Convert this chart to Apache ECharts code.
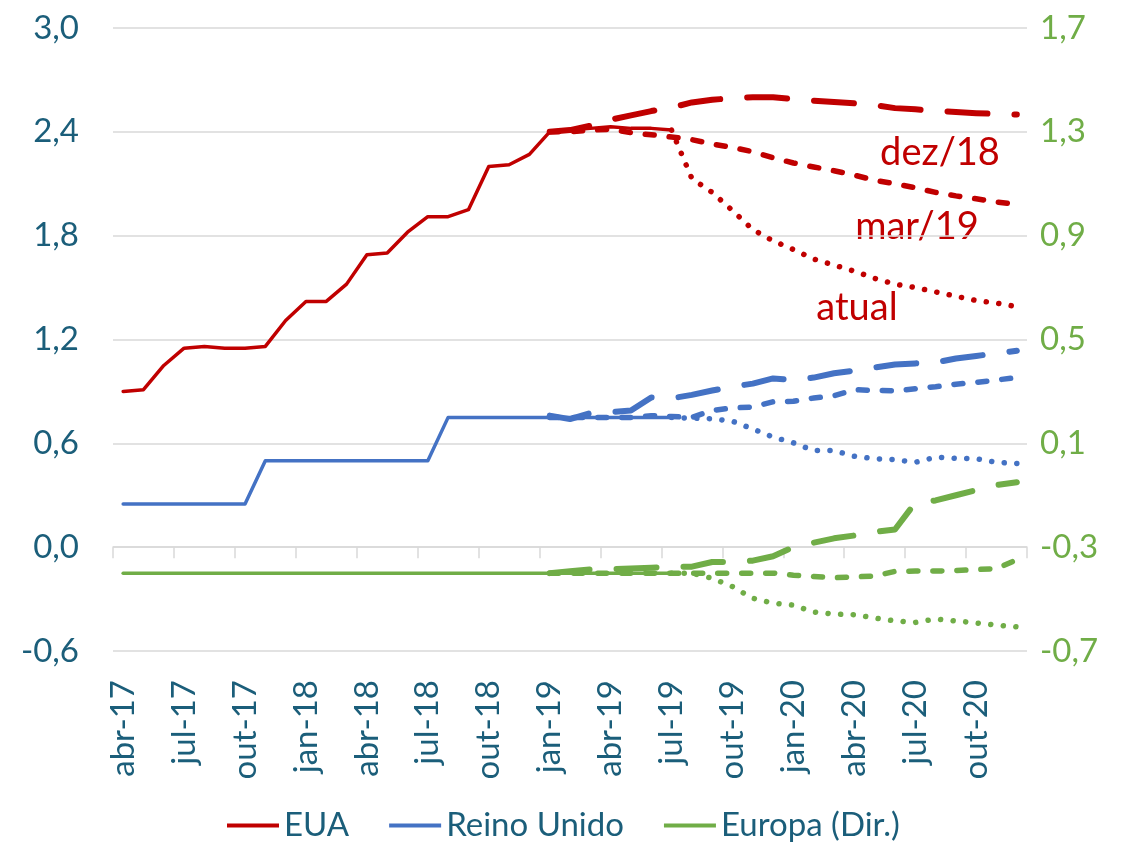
<!DOCTYPE html>
<html>
<head>
<meta charset="utf-8">
<script src="https://cdn.jsdelivr.net/npm/echarts@6/dist/echarts.min.js"></script>
<style>
  html, body { margin: 0; padding: 0; background: #fff; }
  #chart { width: 1127px; height: 843px; }
</style>
</head>
<body>
<div id="chart"></div>
<script>
// meses (eixo x)
var months = ['abr-17','mai-17','jun-17','jul-17','ago-17','set-17','out-17','nov-17','dez-17',
  'jan-18','fev-18','mar-18','abr-18','mai-18','jun-18','jul-18','ago-18','set-18','out-18','nov-18','dez-18',
  'jan-19','fev-19','mar-19','abr-19','mai-19','jun-19','jul-19','ago-19','set-19','out-19','nov-19','dez-19',
  'jan-20','fev-20','mar-20','abr-20','mai-20','jun-20','jul-20','ago-20','set-20','out-20','nov-20','dez-20'];

// historico: abr-17 .. jul-19
var eua = [0.90,0.91,1.05,1.15,1.16,1.15,1.15,1.16,1.31,1.42,1.42,1.52,1.69,1.70,1.82,1.91,1.91,1.95,2.20,2.21,2.27,2.40,2.41,2.42,2.43,2.42,2.42,2.41];
var reinoUnido = [0.25,0.25,0.25,0.25,0.25,0.25,0.25,0.50,0.50,0.50,0.50,0.50,0.50,0.50,0.50,0.50,0.75,0.75,0.75,0.75,0.75,0.75,0.75,0.75,0.75,0.75,0.75,0.75];
var europa = [-0.40,-0.40,-0.40,-0.40,-0.40,-0.40,-0.40,-0.40,-0.40,-0.40,-0.40,-0.40,-0.40,-0.40,-0.40,-0.40,-0.40,-0.40,-0.40,-0.40,-0.40,-0.40,-0.40,-0.40,-0.40,-0.40,-0.40,-0.40];

// curvas futuras dez/18 e mar/19: jan-19 .. dez-20
var euaDez18 = [2.40,2.41,2.435,2.47,2.495,2.52,2.54,2.57,2.585,2.595,2.60,2.60,2.59,2.58,2.572,2.565,2.555,2.537,2.53,2.522,2.515,2.508,2.503,2.50];
var euaMar19 = [2.40,2.40,2.41,2.415,2.395,2.383,2.37,2.355,2.33,2.31,2.285,2.25,2.22,2.197,2.175,2.15,2.12,2.10,2.077,2.05,2.03,2.013,1.995,1.98];
var ukDez18 = [0.76,0.74,0.775,0.78,0.79,0.865,0.86,0.88,0.905,0.928,0.945,0.975,0.965,0.98,1.005,1.02,1.038,1.056,1.062,1.067,1.09,1.105,1.12,1.135];
var ukMar19 = [0.75,0.75,0.75,0.75,0.75,0.76,0.755,0.75,0.79,0.805,0.81,0.84,0.843,0.862,0.875,0.91,0.906,0.904,0.915,0.927,0.942,0.952,0.966,0.98];
var euDez18 = [-0.40,-0.393,-0.386,-0.385,-0.382,-0.379,-0.376,-0.375,-0.357,-0.357,-0.352,-0.335,-0.30,-0.283,-0.266,-0.255,-0.241,-0.232,-0.129,-0.12,-0.10,-0.08,-0.061,-0.05];
var euMar19 = [-0.40,-0.40,-0.40,-0.40,-0.40,-0.40,-0.40,-0.40,-0.40,-0.40,-0.40,-0.40,-0.408,-0.413,-0.418,-0.414,-0.412,-0.393,-0.392,-0.392,-0.39,-0.386,-0.383,-0.348];

// curva atual: jul-19 .. dez-20
var euaAtual = [2.41,2.13,2.05,1.945,1.835,1.77,1.72,1.665,1.63,1.595,1.553,1.52,1.50,1.475,1.45,1.425,1.41,1.39];
var ukAtual = [0.75,0.745,0.742,0.728,0.683,0.636,0.603,0.558,0.558,0.525,0.511,0.506,0.49,0.52,0.513,0.511,0.49,0.484];
var euAtual = [-0.40,-0.40,-0.42,-0.452,-0.497,-0.516,-0.523,-0.55,-0.558,-0.56,-0.573,-0.584,-0.59,-0.577,-0.584,-0.592,-0.60,-0.607];

var leftTicks = [-0.6, 3.0, 0.6];   // min, max, intervalo
var rightTicks = [-0.7, 1.7, 0.4];

var RED = '#c00000', BLUE = '#4472c4', GREEN = '#70ad47', TEAL = '#1b5e7a', GRID = '#d9d9d9';

// coloca os valores a partir do indice do mes inicial
function place(startMonth, values) {
  var start = months.indexOf(startMonth);
  return months.map(function (m, i) {
    var k = i - start;
    return (k >= 0 && k < values.length) ? values[k] : null;
  });
}

function fmt(v) { return v.toFixed(1).replace('.', ','); }

var LONG = [40, 27], MED = [9, 15], DOT = [0.1, 12.5];

function line(name, data, color, axis, width, type) {
  return {
    name: name,
    type: 'line',
    xAxisIndex: 0,
    yAxisIndex: axis,
    data: data,
    showSymbol: false,
    symbol: 'none',
    connectNulls: false,
    itemStyle: { color: color },
    lineStyle: { color: color, width: width, type: type, cap: 'round', join: 'round' },
    emphasis: { disabled: true }
  };
}

var chart = echarts.init(document.getElementById('chart'));

var option = {
  animation: false,
  textStyle: { fontFamily: 'Lato' },
  grid: { left: 113, right: 100, top: 28, bottom: 192 },
  legend: {
    data: ['EUA', 'Reino Unido', 'Europa (Dir.)'],
    top: 804,
    left: 222,
    icon: 'rect',
    itemWidth: 52,
    itemHeight: 4,
    itemGap: 40,
    textStyle: { color: TEAL, fontSize: 33, fontFamily: 'Lato' }
  },
  xAxis: [
    {
      type: 'category',
      data: months,
      boundaryGap: true,
      position: 'bottom',
      axisLine: { show: false, onZero: false },
      axisTick: { show: false },
      axisLabel: { interval: 2, rotate: 90, margin: 29, color: TEAL, fontSize: 33, fontFamily: 'Lato' },
      splitLine: { show: false }
    },
    {
      type: 'category',
      data: months,
      boundaryGap: true,
      position: 'bottom',
      axisLine: { show: true, onZero: true, onZeroAxisIndex: 0, lineStyle: { color: GRID, width: 1.5 } },
      axisTick: { show: true, interval: 2, length: 11, lineStyle: { color: GRID, width: 1.5 } },
      axisLabel: { show: false },
      splitLine: { show: false }
    }
  ],
  yAxis: [
    {
      type: 'value',
      min: leftTicks[0], max: leftTicks[1], interval: leftTicks[2],
      axisLine: { show: false },
      axisTick: { show: false },
      axisLabel: { formatter: fmt, color: TEAL, fontSize: 33, margin: 34, fontFamily: 'Lato' },
      splitLine: { lineStyle: { color: GRID, width: 1.5 } }
    },
    {
      type: 'value',
      position: 'right',
      min: rightTicks[0], max: rightTicks[1], interval: rightTicks[2],
      axisLine: { show: false },
      axisTick: { show: false },
      axisLabel: { formatter: fmt, color: GREEN, fontSize: 33, margin: 13, fontFamily: 'Lato' },
      splitLine: { show: false }
    }
  ],
  series: [
    line('EUA dez/18', place('jan-19', euaDez18), RED, 0, 6, LONG),
    line('EUA mar/19', place('jan-19', euaMar19), RED, 0, 5.5, MED),
    line('EUA atual', place('jul-19', euaAtual), RED, 0, 5.5, DOT),
    line('RU dez/18', place('jan-19', ukDez18), BLUE, 0, 6, LONG),
    line('RU mar/19', place('jan-19', ukMar19), BLUE, 0, 5.5, MED),
    line('RU atual', place('jul-19', ukAtual), BLUE, 0, 5.5, DOT),
    line('EU dez/18', place('jan-19', euDez18), GREEN, 1, 6, LONG),
    line('EU mar/19', place('jan-19', euMar19), GREEN, 1, 5.5, MED),
    line('EU atual', place('jul-19', euAtual), GREEN, 1, 5.5, DOT),
    line('EUA', place('abr-17', eua), RED, 0, 3.5, 'solid'),
    line('Reino Unido', place('abr-17', reinoUnido), BLUE, 0, 3.5, 'solid'),
    line('Europa (Dir.)', place('abr-17', europa), GREEN, 1, 3.5, 'solid')
  ],
  graphic: [
    { type: 'text', x: 940, y: 153, style: { text: 'dez/18', fill: RED, fontSize: 38, fontFamily: 'Lato', align: 'center', verticalAlign: 'middle' } },
    { type: 'text', x: 917, y: 227, style: { text: 'mar/19', fill: RED, fontSize: 38, fontFamily: 'Lato', align: 'center', verticalAlign: 'middle' } },
    { type: 'text', x: 857, y: 308, style: { text: 'atual', fill: RED, fontSize: 38, fontFamily: 'Lato', align: 'center', verticalAlign: 'middle' } }
  ]
};

chart.setOption(option);
</script>
</body>
</html>
